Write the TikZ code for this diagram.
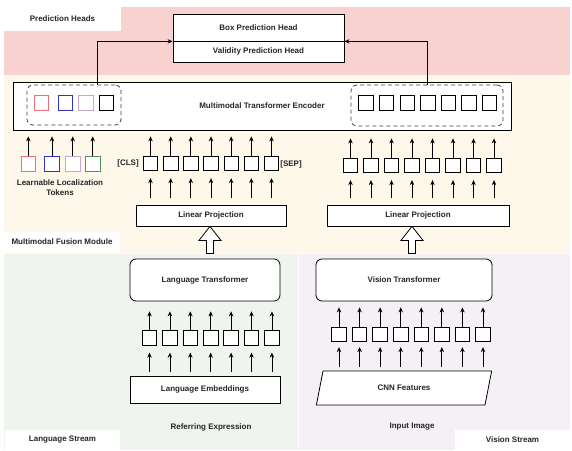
\documentclass[tikz,border=0pt]{standalone}
\usepackage{fontspec}
\setmainfont{Liberation Sans}
\usepackage{xcolor}
\usepackage{tikz}
\usetikzlibrary{calc,arrows.meta,positioning}
\usetikzlibrary{shapes.geometric}

\definecolor{predpink}{HTML}{F8D2D1}
\definecolor{fusioncream}{HTML}{FEF8EA}
\definecolor{langgreen}{HTML}{EFF5EE}
\definecolor{vislav}{HTML}{F5F0F6}
\definecolor{tokred}{HTML}{E9707A}
\definecolor{tokblue}{HTML}{3333C2}
\definecolor{tokpurple}{HTML}{C9A9CB}
\definecolor{tokgreen}{HTML}{528F62}
\definecolor{txtdark}{HTML}{262626}

\begin{document}
\begin{tikzpicture}[x=1pt,y=-1pt,
  font=\fontsize{8}{10}\selectfont\bfseries, text=txtdark,
  arr/.style={-{Stealth[length=5pt,width=4.5pt]}, line width=0.8pt},
  blk/.style={draw, line width=0.8pt, fill=white, inner sep=0pt},
  tok/.style={draw, line width=0.8pt, fill=white, minimum size=14.5pt, inner sep=0pt},
  grp/.style={draw=black!75, dash pattern=on 4pt off 3pt, rounded corners=6pt, line width=0.8pt, inner sep=0pt},
  lab/.style={fill=white, inner sep=0pt}]
  \useasboundingbox (0,0) rectangle (572,450);

% 背景の領域
\fill[predpink] (4,7) rectangle (570,75);
\fill[fusioncream] (4,75) rectangle (570,253);
\fill[langgreen] (4,254) rectangle (298,450);
\fill[vislav] (299,254) rectangle (570,450);

% 領域のラベル
\node[lab, minimum width=117pt, minimum height=24pt] (predlab) at (62.5,19) {Prediction Heads};
\node[lab, minimum width=116pt, minimum height=20pt] (fuselab) at (62,242) {Multimodal Fusion Module};
\node[lab, minimum width=115pt, minimum height=20pt] (langlab) at (62.5,440) {Language Stream};
\node[lab, minimum width=115pt, minimum height=20pt] (vislab) at (512.5,440) {Vision Stream};

% 予測ヘッド
\node[blk, minimum width=171pt, minimum height=27pt] (boxhead) at (258.5,27.5) {Box Prediction Head};
\node[blk, minimum width=171pt, minimum height=21pt] (validhead) at (258.5,51.5) {Validity Prediction Head};

% エンコーダ
\node[blk, minimum width=498pt, minimum height=48pt] (enc) at (262,106) {Multimodal Transformer Encoder};
\node[grp, minimum width=94pt, minimum height=40pt] (lgrp) at (74,105) {};
\node[grp, minimum width=152pt, minimum height=41pt] (rgrp) at (427,105.5) {};
\foreach \x/\c [count=\i] in {41.5/tokred, 65.5/tokblue, 86/tokpurple, 106.5/black}
  \node[tok, draw=\c] (encloc\i) at (\x,103) {};
\foreach \i in {0,...,6}
  \node[tok] (encimg\i) at (366+20.6*\i,103) {};

\draw[arr] ([xshift=23pt]lgrp.north) |- (boxhead.south west);
\draw[arr] (rgrp.north) |- (boxhead.south east);

% 学習可能なトークン
\foreach \x/\c [count=\i] in {28.3/tokred, 52/tokblue, 72.7/tokpurple, 92.7/tokgreen} {
    \node[tok, draw=\c] (loc\i) at (\x,163.7) {};
    \draw[arr, shorten >=6pt] (loc\i.north) -- (loc\i |- enc.south);
}
\node[align=center] (loctext) at (60,188) {Learnable Localization\\Tokens};

% 線形射影
\node[blk, minimum width=150pt, minimum height=21pt] (lpL) at (211,215.5) {Linear Projection};
\node[blk, minimum width=182pt, minimum height=21pt] (lpR) at (418,215.5) {Linear Projection};
\node (cls) at (128,163.5) {[CLS]};
\node (sep) at (291,164) {[SEP]};
\foreach \i in {0,...,6} {
    \node[tok] (txt\i) at (150.5+20.17*\i,163.5) {};
    \draw[arr, shorten >=6pt] (txt\i.north) -- (txt\i |- enc.south);
    \draw[arr, shorten <=7pt, shorten >=7pt] (txt\i |- lpL.north) -- (txt\i.south);
}
\foreach \i in {0,...,7} {
    \node[tok] (img\i) at (350.5+20.5*\i,165.5) {};
    \draw[arr, shorten >=8pt] (img\i.north) -- (img\i |- enc.south);
    \draw[arr, shorten <=7pt, shorten >=7pt] (img\i |- lpR.north) -- (img\i.south);
}

% 白抜き矢印
\draw[line width=0.8pt, fill=white] ([xshift=-1pt]lpL.south) -- ++(11,14) -- ++(-7.5,0) -- ++(0,13)
  -- ++(-7,0) -- ++(0,-13) -- ++(-7.5,0) -- cycle;
\draw[line width=0.8pt, fill=white] ([xshift=-6pt]lpR.south) -- ++(11,14) -- ++(-7.5,0) -- ++(0,13)
  -- ++(-7,0) -- ++(0,-13) -- ++(-7.5,0) -- cycle;

% 言語ストリーム
\node[blk, rounded corners=6pt, minimum width=150pt, minimum height=42pt] (langtf) at (205,280) {Language Transformer};
\node[blk, minimum width=150pt, minimum height=27pt] (langemb) at (205,389.5) {Language Embeddings};
\foreach \i in {0,...,6} {
    \node[tok] (lang\i) at (149.5+20.4*\i,338) {};
    \draw[arr, shorten >=10pt] (lang\i.north) -- (lang\i |- langtf.south);
    \draw[arr, shorten <=4pt, shorten >=7pt] (lang\i |- langemb.north) -- (lang\i.south);
}
\node (refexp) at (211,427) {Referring Expression};

% 視覚ストリーム
\node[blk, rounded corners=6pt, minimum width=176pt, minimum height=42pt] (vistf) at (404,280) {Vision Transformer};
\node[blk, trapezium, trapezium left angle=69, trapezium right angle=111, trapezium stretches=true,
  minimum width=176pt, minimum height=34pt] (cnn) at (404,388) {CNN Features};
\foreach \i in {0,...,7} {
    \node[tok] (vis\i) at (339+20.57*\i,334.5) {};
    \draw[arr, shorten >=6pt] (vis\i.north) -- (vis\i |- vistf.south);
    \draw[arr, shorten <=4pt, shorten >=5pt] (vis\i |- cnn.north) -- (vis\i.south);
}
\node (inimg) at (412,427) {Input Image};

\end{tikzpicture}
\end{document}
